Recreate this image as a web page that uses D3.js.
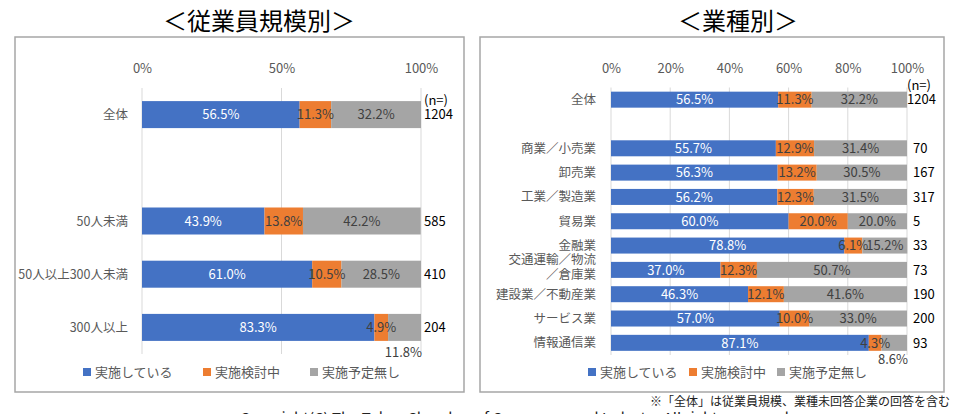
<!DOCTYPE html>
<html>
<head>
<meta charset="utf-8">
<script src="https://cdn.jsdelivr.net/npm/d3@7"></script>
<style>
  body { margin: 0; background: #fff; }
  svg text { font-family: "Noto Sans CJK JP", "Noto Sans", sans-serif; }
</style>
</head>
<body>
<svg id="chart" width="956" height="414"></svg>
<script>
// 凡例・系列
const seriesNames = ["実施している", "実施検討中", "実施予定無し"];
const seriesColors = ["#4472C4", "#ED7D31", "#A5A5A5"];

// 従業員規模別 ("" は空行)
const sizeCategories = ["全体", "", "50人未満", "50人以上300人未満", "300人以上"];
const sizeDoing    = [56.5, null, 43.9, 61.0, 83.3];
const sizePlanning = [11.3, null, 13.8, 10.5, 4.9];
const sizeNone     = [32.2, null, 42.2, 28.5, 11.8];
const sizeN        = ["1204", null, "585", "410", "204"];
const sizeTicks    = [0, 50, 100];

// 業種別
const indCategories = ["全体", "", "商業／小売業", "卸売業", "工業／製造業", "貿易業", "金融業",
  "交通運輸／物流\n／倉庫業", "建設業／不動産業", "サービス業", "情報通信業"];
const indDoing    = [56.5, null, 55.7, 56.3, 56.2, 60.0, 78.8, 37.0, 46.3, 57.0, 87.1];
const indPlanning = [11.3, null, 12.9, 13.2, 12.3, 20.0, 6.1, 12.3, 12.1, 10.0, 4.3];
const indNone     = [32.2, null, 31.4, 30.5, 31.5, 20.0, 15.2, 50.7, 41.6, 33.0, 8.6];
const indN        = ["1204", null, "70", "167", "317", "5", "33", "73", "190", "200", "93"];
const indTicks    = [0, 20, 40, 60, 80, 100];

const svg = d3.select("#chart");

function drawPanel(opt) {
  const g = svg.append("g");

  // 枠
  g.append("rect")
    .attr("x", opt.box[0]).attr("y", opt.box[1])
    .attr("width", opt.box[2] - opt.box[0]).attr("height", opt.box[3] - opt.box[1])
    .attr("fill", "#fff").attr("stroke", "#a6a6a6").attr("stroke-width", 1.5);

  // タイトル
  g.append("text")
    .attr("x", opt.titleX).attr("y", 30)
    .attr("text-anchor", "middle")
    .style("font-size", "24px").style("fill", "#000")
    .text(opt.title);

  const x = d3.scaleLinear().domain([0, 100]).range(opt.xRange);
  const step = (opt.yRange[1] - opt.yRange[0]) / opt.categories.length;
  const pIn = 1 - opt.barH / step;
  const y = d3.scaleBand()
    .domain(opt.categories.map((c, i) => i))
    .range(opt.yRange)
    .paddingInner(pIn)
    .paddingOuter(pIn / 2);

  // 目盛線
  g.selectAll(".grid")
    .data(opt.ticks)
    .enter().append("line")
    .attr("x1", d => x(d)).attr("x2", d => x(d))
    .attr("y1", opt.yRange[0]).attr("y2", opt.yRange[1])
    .attr("stroke", "#d9d9d9").attr("stroke-width", 1);

  // 上側の軸ラベル
  const axis = g.append("g")
    .attr("transform", `translate(0,${opt.axisY})`)
    .call(d3.axisTop(x).tickValues(opt.ticks).tickFormat(d => d + "%").tickSize(0).tickPadding(0));
  axis.select(".domain").remove();
  axis.selectAll("text")
    .style("font-size", "13px").style("fill", "#595959")
    .style("font-family", '"Noto Sans CJK JP", sans-serif');

  const rows = opt.categories.map((c, i) => ({
    i, name: c,
    vals: [opt.doing[i], opt.planning[i], opt.none[i]],
    n: opt.n[i]
  })).filter(d => d.vals[0] != null);

  rows.forEach(r => {
    let acc = 0;
    r.segs = r.vals.map((v, k) => {
      const s = { k, v, x0: acc, x1: acc + v };
      acc += v;
      return s;
    });
  });

  const row = g.selectAll(".row")
    .data(rows)
    .enter().append("g")
    .attr("transform", d => `translate(0,${y(d.i)})`);

  row.selectAll("rect")
    .data(d => d.segs)
    .enter().append("rect")
    .attr("x", d => x(d.x0))
    .attr("width", d => x(d.x1) - x(d.x0))
    .attr("height", y.bandwidth())
    .attr("fill", d => seriesColors[d.k]);

  const bh = y.bandwidth();
  const outside = d => d.k === 2 && d.v < 12;

  // 値ラベル
  row.selectAll(".val")
    .data(d => d.segs)
    .enter().append("text")
    .attr("x", d => outside(d) ? x(100) + 1 : x((d.x0 + d.x1) / 2))
    .attr("y", d => outside(d) ? bh + opt.belowDy : bh / 2)
    .attr("dy", "0.36em")
    .attr("text-anchor", d => outside(d) ? "end" : "middle")
    .style("font-size", "13px")
    .style("fill", d => d.k === 0 ? "#fff" : "#404040")
    .text(d => d.v.toFixed(1) + "%");

  // カテゴリラベル
  row.append("text")
    .attr("x", opt.catX)
    .attr("y", bh / 2)
    .attr("text-anchor", "end")
    .style("font-size", "12.5px").style("fill", "#595959")
    .each(function(d) {
      const lines = d.name.split("\n");
      const t = d3.select(this);
      if (lines.length === 1) {
        t.attr("dy", "0.36em").text(d.name);
      } else {
        t.append("tspan").attr("x", opt.catX).attr("dy", -6).text(lines[0]);
        t.append("tspan").attr("x", opt.catX).attr("dy", 15).text(lines[1]);
      }
    });

  // n= ラベル
  row.append("text")
    .attr("x", d => d.i === 0 ? opt.nX0 : opt.nX)
    .attr("y", bh / 2)
    .attr("dy", "0.36em")
    .style("font-size", "13px").style("fill", "#000")
    .text(d => d.n);

  row.filter(d => d.i === 0).append("text")
    .attr("x", opt.nX0)
    .attr("y", bh / 2 - 14)
    .attr("dy", "0.36em")
    .style("font-size", "13px").style("fill", "#000")
    .text("(n=)");

  // 凡例
  const leg = g.selectAll(".leg")
    .data(seriesNames)
    .enter().append("g")
    .attr("transform", (d, i) => `translate(${opt.legendX[i]},${opt.legendY})`);
  leg.append("rect")
    .attr("x", 0).attr("y", -4).attr("width", 8).attr("height", 8)
    .attr("fill", (d, i) => seriesColors[i]);
  leg.append("text")
    .attr("x", 12).attr("y", 0).attr("dy", "0.36em")
    .style("font-size", "13px").style("fill", "#595959")
    .text(d => d);
}

drawPanel({
  title: "＜従業員規模別＞", titleX: 259,
  box: [15, 37, 464, 392],
  xRange: [142, 421], yRange: [88, 354], axisY: 73, barH: 27,
  categories: sizeCategories, doing: sizeDoing, planning: sizePlanning, none: sizeNone, n: sizeN,
  ticks: sizeTicks, catX: 128, nX0: 424, nX: 424, belowDy: 11,
  legendX: [83, 203, 310], legendY: 372
});

drawPanel({
  title: "＜業種別＞", titleX: 738,
  box: [480, 37, 944, 392],
  xRange: [611, 907], yRange: [87.5, 355], axisY: 73, barH: 16,
  categories: indCategories, doing: indDoing, planning: indPlanning, none: indNone, n: indN,
  ticks: indTicks, catX: 596, nX0: 907, nX: 913, belowDy: 8,
  legendX: [588, 689, 777], legendY: 372
});

// 注記
svg.append("text")
  .attr("x", 950).attr("y", 406)
  .attr("text-anchor", "end")
  .style("font-size", "12px").style("fill", "#222")
  .text("※「全体」は従業員規模、業種未回答企業の回答を含む");

svg.append("text")
  .attr("x", 240).attr("y", 424)
  .style("font-size", "15px").style("fill", "#222")
  .text("Copyright(C) The Tokyo Chamber of Commerce and Industry All rights reserved.");
</script>
</body>
</html>
